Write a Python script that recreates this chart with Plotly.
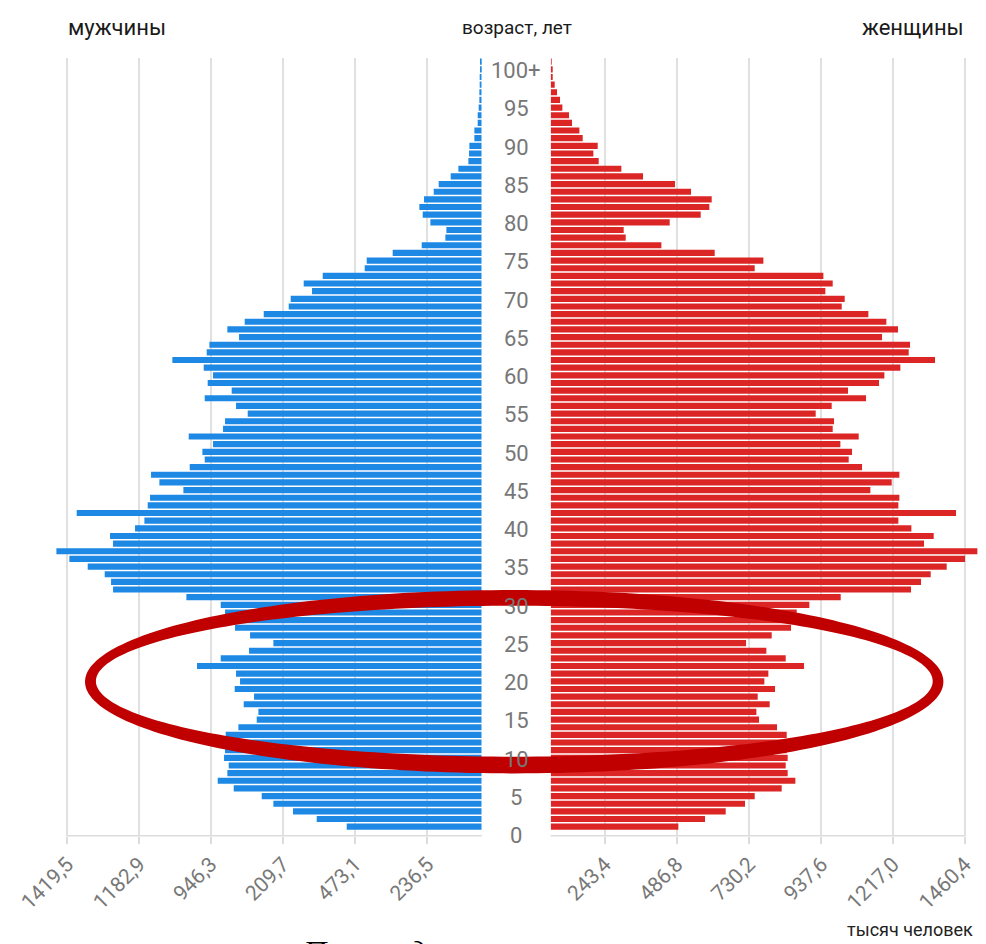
import numpy as np
import plotly.graph_objects as go

# ---------------- data ----------------
ages = list(range(101))
age_labels = [str(a) if a < 100 else "100+" for a in ages]
label_ages = list(range(0, 101, 5))

# men, thousand people, age 0 .. 100+
men = [462.4, 565.2, 646.3, 713.6, 753.6, 849.5, 904.3, 871.2, 866.6, 882.6,
       879.2, 884.9, 876.9, 833.5, 770.7, 765.0, 815.2, 779.8, 846.1, 827.8,
       841.5, 975.1, 894.0, 797.0, 713.6, 793.5, 844.9, 867.8, 879.2, 894.0,
       1011.6, 1262.8, 1269.7, 1291.4, 1349.6, 1412.4, 1456.9, 1262.8, 1273.1, 1187.5,
       1155.5, 1387.3, 1144.1, 1136.1, 1021.9, 1104.1, 1132.7, 1000.2, 948.8, 956.8,
       920.3, 1003.6, 886.0, 879.2, 801.5, 841.5, 948.8, 856.4, 938.6, 920.3,
       952.3, 1059.6, 942.0, 932.8, 831.2, 871.2, 811.8, 746.7, 661.1, 654.2,
       581.2, 609.7, 544.6, 400.8, 393.9, 304.9, 205.5, 124.5, 121.0, 175.8,
       202.1, 213.5, 197.5, 164.4, 147.3, 106.2, 79.9, 45.7, 43.4, 42.2,
       25.1, 25.1, 13.7, 13.7, 10.3, 8.0, 8.0, 6.9, 6.9, 5.7,
       4.6]

# women, thousand people, age 0 .. 100+
women = [450.0, 544.0, 616.9, 685.0, 719.1, 814.3, 862.5, 835.4, 828.4, 835.4,
         831.9, 837.8, 831.9, 797.8, 734.4, 725.0, 772.0, 729.7, 790.8, 753.2,
         767.3, 893.0, 828.4, 760.2, 688.6, 779.0, 847.2, 855.4, 867.2, 911.8,
         1022.3, 1270.2, 1305.4, 1339.5, 1395.9, 1460.5, 1504.0, 1316.0, 1350.1, 1271.4,
         1225.5, 1428.8, 1225.5, 1229.1, 1126.8, 1202.0, 1229.1, 1097.5, 1050.5, 1062.2,
         1021.1, 1085.7, 994.1, 998.8, 934.1, 990.5, 1111.6, 1048.1, 1157.4, 1176.2,
         1232.6, 1354.8, 1262.0, 1266.7, 1168.0, 1224.4, 1183.2, 1119.8, 1025.8, 1036.4,
         968.2, 994.1, 961.2, 719.1, 749.7, 578.1, 390.1, 264.4, 257.3, 419.5,
         528.8, 559.3, 567.5, 494.7, 438.3, 325.5, 249.1, 169.2, 150.4, 165.7,
         112.8, 101.1, 75.2, 64.6, 41.1, 32.9, 22.3, 14.1, 7.1, 4.7,
         3.5]

left_tickvals = [1419.5, 1173.2, 928.0, 681.0, 434.0, 186.0]
left_ticktext = ["1419,5", "1182,9", "946,3", "209,7", "473,1", "236,5"]
right_tickvals = [191.4, 444.2, 699.0, 953.9, 1206.6, 1460.4]
right_ticktext = ["243,4", "486,8", "730,2", "937,6", "1217,0", "1460,4"]

# ---------------- styles ----------------
OFF = 8                      # page body margin
W, H = 986 - OFF, 944 - OFF  # figure size
BLUE = "#1e88e5"
RED = "#dc2626"
GRID = "#e0e0e0"
TICKFONT = dict(family="Roboto", size=21, color="#787878")

def px(x):   # page pixel -> paper fraction
    return (x - OFF) / W

def py(y):
    return 1 - (y - OFF) / H

fig = go.Figure()
fig.add_trace(go.Bar(x=men, y=ages, orientation="h", xaxis="x", yaxis="y",
                     marker=dict(color=BLUE, line=dict(width=0)), name="мужчины",
                     showlegend=False))
fig.add_trace(go.Bar(x=women, y=ages, orientation="h", xaxis="x2", yaxis="y",
                     marker=dict(color=RED, line=dict(width=0)), name="женщины",
                     showlegend=False))

common_x = dict(showgrid=True, gridcolor=GRID, gridwidth=1.5, zeroline=False,
                showline=False, ticks="outside", ticklen=7, tickwidth=1.5,
                tickcolor="#dcdcdc", tickangle=-45, tickfont=TICKFONT,
                tickmode="array", fixedrange=True, automargin=False)

fig.update_layout(
    width=W, height=H, autosize=False,
    margin=dict(l=0, r=0, t=0, b=0, pad=0, autoexpand=False),
    paper_bgcolor="white", plot_bgcolor="white",
    barmode="overlay", bargap=0.2,
    xaxis=dict(domain=[px(50), px(481.7)], range=[1478.8, 0], anchor="y",
               tickvals=left_tickvals, ticktext=left_ticktext, **common_x),
    xaxis2=dict(domain=[px(550.7), px(980)], range=[0, 1513.3], anchor="y",
                tickvals=right_tickvals, ticktext=right_ticktext, **common_x),
    yaxis=dict(domain=[py(835.7), py(58)], range=[-1.18, 100.48],
               showgrid=False, zeroline=False, showticklabels=False,
               showline=False, fixedrange=True, automargin=False),
    font=dict(family="Roboto"),
)

# bottom axis lines
shapes = [
    dict(type="line", xref="paper", yref="paper", x0=px(66.7), x1=px(481.7),
         y0=py(835.7), y1=py(835.7), line=dict(color="#dcdcdc", width=1.5)),
    dict(type="line", xref="paper", yref="paper", x0=px(550.7), x1=px(965.3),
         y0=py(835.7), y1=py(835.7), line=dict(color="#dcdcdc", width=1.5)),
]

# highlight ellipse (ring)
def ellipse_path(cx, cy, rx, ry, n=240):
    t = np.linspace(0, 2 * np.pi, n, endpoint=False)
    xs = [px(v) for v in (cx + rx * np.cos(t))]
    ys = [py(v) for v in (cy + ry * np.sin(t))]
    pts = [f"{x:.5f},{y:.5f}" for x, y in zip(xs, ys)]
    return "M " + " L ".join(pts) + " Z"

ring = ellipse_path(514.2, 681.7, 429.2, 91.7) + " " + ellipse_path(514.3, 681.2, 418.4, 75.5)
shapes.append(dict(type="path", xref="paper", yref="paper", path=ring,
                   fillcolor="#c00000", fillrule="evenodd", line=dict(width=0),
                   layer="above"))
fig.update_layout(shapes=shapes)

annotations = []
for a in label_ages:
    annotations.append(dict(x=px(516), xref="paper", y=a - 1.18, yref="y",
                            text=age_labels[a], showarrow=False,
                            xanchor="center", yanchor="middle",
                            font=dict(family="Roboto", size=22, color="#777777")))

annotations += [
    dict(x=px(66), y=py(27), xref="paper", yref="paper", text="мужчины",
         showarrow=False, xanchor="left", yanchor="middle",
         font=dict(family="Roboto", size=22, color="#1a1a1a")),
    dict(x=px(517), y=py(27), xref="paper", yref="paper", text="возраст, лет",
         showarrow=False, xanchor="center", yanchor="middle",
         font=dict(family="Roboto", size=19, color="#1a1a1a")),
    dict(x=px(966), y=py(27), xref="paper", yref="paper", text="женщины",
         showarrow=False, xanchor="right", yanchor="middle",
         font=dict(family="Roboto", size=22, color="#1a1a1a")),
    dict(x=px(975), y=py(929), xref="paper", yref="paper", text="тысяч человек",
         showarrow=False, xanchor="right", yanchor="middle",
         font=dict(family="Roboto", size=18, color="#222222")),
    dict(x=px(300), y=py(932), xref="paper", yref="paper",
         text="<i>Провал девяностых</i>",
         showarrow=False, xanchor="left", yanchor="top",
         font=dict(family="Liberation Serif", size=32, color="#000000")),
]
fig.update_layout(annotations=annotations)

fig.write_html("out.html")
